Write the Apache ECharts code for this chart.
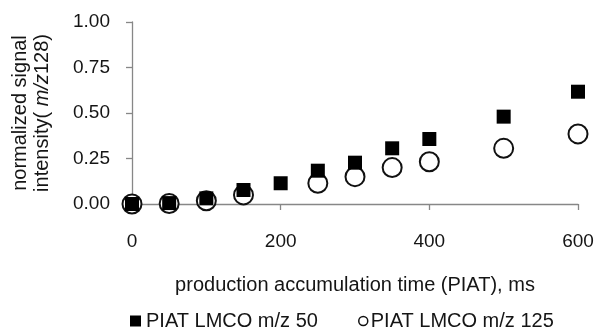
<!DOCTYPE html>
<html><head><meta charset="utf-8">
<script src="https://cdn.jsdelivr.net/npm/echarts@6/dist/echarts.min.js"></script>
<style>html,body{margin:0;padding:0;background:#fff}#c{width:598px;height:333px}</style>
</head><body><div id="c"></div>
<script>
const piat = [0, 50, 100, 150, 200, 250, 300, 350, 400, 500, 600];
const lmco50 = [0.00, 0.005, 0.031, 0.077, 0.114, 0.183, 0.227, 0.306, 0.357, 0.48, 0.617];
const piat125 = [0, 50, 100, 150, 250, 300, 350, 400, 500, 600];
const lmco125 = [0.00, 0.003, 0.018, 0.05, 0.114, 0.15, 0.20, 0.232, 0.306, 0.385];
const seriesNames = ['PIAT LMCO m/z 50', 'PIAT LMCO m/z 125'];

const font = 'Liberation Sans, Arial, sans-serif';
const txt = '#151515';
const axisGray = '#878787';
const chart = echarts.init(document.getElementById('c'), null, {renderer: 'canvas'});
chart.setOption({
  animation: false,
  backgroundColor: '#fff',
  grid: {left: 132, right: 20, top: 22, bottom: 129, containLabel: false},
  xAxis: {
    type: 'value', min: 0, max: 600, interval: 200,
    axisLine: {lineStyle: {color: axisGray, width: 1.3}},
    axisTick: {show: true, length: 6, lineStyle: {color: axisGray, width: 1.3}},
    splitLine: {show: false},
    axisLabel: {color: txt, fontSize: 19, fontFamily: font, margin: 28},
    name: 'production accumulation time (PIAT), ms', nameLocation: 'middle', nameGap: 71,
    nameTextStyle: {color: txt, fontSize: 20, fontFamily: font}
  },
  yAxis: {
    type: 'value', min: 0, max: 1, interval: 0.25,
    axisLine: {show: true, lineStyle: {color: axisGray, width: 1.3}},
    axisTick: {show: true, length: 6, lineStyle: {color: axisGray, width: 1.3}},
    splitLine: {show: false},
    axisLabel: {color: txt, fontSize: 19, fontFamily: font, margin: 22,
      formatter: v => v.toFixed(2)},
    name: '{a|normalized signal}\n{a|intensity( }{i|m/z}{a|128)}',
    nameLocation: 'middle', nameGap: 79, nameRotate: 90,
    nameTextStyle: {color: txt, fontFamily: font, lineHeight: 22,
      rich: {a: {fontSize: 20, fontFamily: font, color: txt, lineHeight: 22},
             i: {fontSize: 20, fontFamily: font, color: txt, fontStyle: 'italic', lineHeight: 22}}}
  },
  legend: [{
    data: [{name: seriesNames[0], icon: 'rect'}],
    left: 125, top: 306, itemWidth: 11, itemHeight: 11, itemGap: 0,
    textStyle: {fontSize: 20, fontFamily: font, color: txt}
  }, {
    data: [{name: seriesNames[1], icon: 'circle'}],
    left: 353, top: 306, itemWidth: 9, itemHeight: 9, itemGap: 0,
    itemStyle: {borderWidth: 1.5},
    textStyle: {fontSize: 20, fontFamily: font, color: txt, padding: [0,0,0,-2]}
  }],
  series: [{
    name: seriesNames[1], type: 'scatter', symbol: 'circle', symbolSize: 19,
    data: piat125.map((x, i) => [x, lmco125[i]]),
    itemStyle: {color: '#fff', borderColor: '#111', borderWidth: 2, opacity: 1},
    z: 2
  }, {
    name: seriesNames[0], type: 'scatter', symbol: 'rect', symbolSize: 14,
    data: piat.map((x, i) => [x, lmco50[i]]),
    itemStyle: {color: '#000', opacity: 1},
    z: 3
  }]
});
</script></body></html>
